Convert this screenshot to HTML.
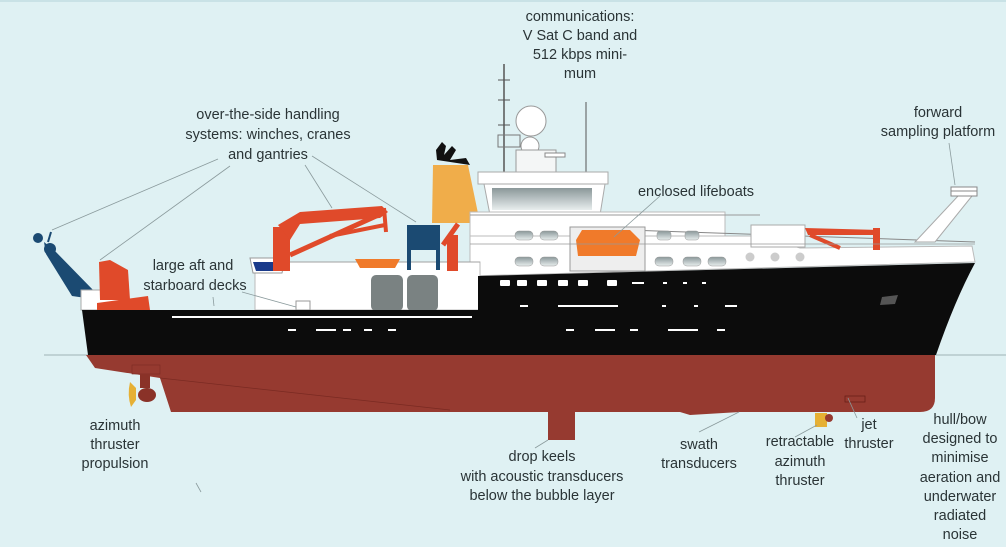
<!DOCTYPE html>
<html><head><meta charset="utf-8"><style>
html,body{margin:0;padding:0;background:#dff1f3;}
svg{display:block}
text{font-family:"Liberation Sans",sans-serif;font-size:14.5px;fill:#2a3436;text-anchor:middle}
</style></head><body>
<svg width="1006" height="547" viewBox="0 0 1006 547" xmlns="http://www.w3.org/2000/svg">
<defs>
<linearGradient id="win" x1="0" y1="0" x2="0" y2="1"><stop offset="0" stop-color="#8a9799"/><stop offset="1" stop-color="#e8eeee"/></linearGradient>
</defs>
<rect x="0" y="0" width="1006" height="547" fill="#dff1f3"/>
<rect x="0" y="0" width="1006" height="2" fill="#c9e2e6"/>
<line x1="44" y1="355" x2="1006" y2="355" stroke="#9fb4b6" stroke-width="1"/>

<line x1="504" y1="64" x2="504" y2="180" stroke="#555" stroke-width="1.5"/>
<line x1="498" y1="80" x2="510" y2="80" stroke="#555"/>
<line x1="498" y1="100" x2="510" y2="100" stroke="#555"/>
<line x1="498" y1="125" x2="510" y2="125" stroke="#555"/>
<line x1="586" y1="102" x2="586" y2="175" stroke="#555"/>
<rect x="498" y="135" width="22" height="12" fill="none" stroke="#777"/>
<circle cx="531" cy="121" r="15" fill="#fff" stroke="#999"/>
<circle cx="530" cy="146" r="9" fill="#fff" stroke="#999"/>
<rect x="516" y="150" width="40" height="25" fill="#f4f6f6" stroke="#999"/>
<rect x="545" y="153" width="20" height="4" fill="#fff" stroke="#888"/>
<path d="M437 160 L436 150 L442 142 L446 146 L444 155 L452 146 L456 150 L450 160 L466 158 L470 165 Z" fill="#111"/>
<polygon points="433,165 468,165 480,223 432,223" fill="#f0ad4a"/>
<rect x="478" y="172" width="130" height="12" fill="#fff" stroke="#aaa"/>
<polygon points="484,184 605,184 600,215 490,215" fill="#fff" stroke="#aaa"/>
<rect x="492" y="188" width="100" height="22" fill="url(#win)"/>
<rect x="470" y="212" width="255" height="30" fill="#fff" stroke="#bbb"/>
<line x1="470" y1="215" x2="760" y2="215" stroke="#999"/>
<polygon points="470,236 760,236 800,248 972,246 975,262 470,276" fill="#fff" stroke="#bbb"/>
<line x1="600" y1="229" x2="975" y2="242" stroke="#888"/>
<rect x="751" y="225" width="54" height="22" fill="#fff" stroke="#aaa"/>
<g fill="url(#win)" stroke="#999" stroke-width=".5">
<rect x="515" y="231" width="18" height="9" rx="4"/><rect x="540" y="231" width="18" height="9" rx="4"/>
<rect x="515" y="257" width="18" height="9" rx="4"/><rect x="540" y="257" width="18" height="9" rx="4"/>
<rect x="657" y="231" width="14" height="9" rx="3"/><rect x="685" y="231" width="14" height="9" rx="3"/>
<rect x="655" y="257" width="18" height="9" rx="4"/><rect x="683" y="257" width="18" height="9" rx="4"/><rect x="708" y="257" width="18" height="9" rx="4"/>
</g>
<g fill="#ccc"><circle cx="750" cy="257" r="4.5"/><circle cx="775" cy="257" r="4.5"/><circle cx="800" cy="257" r="4.5"/></g>
<rect x="570" y="227" width="75" height="44" fill="#eee" stroke="#999"/>
<path d="M576 240 L582 230 L630 230 L640 240 L636 256 L578 256 Z" fill="#f07a2a"/>
<polygon points="805,228 880,230 880,235 808,235" fill="#e04a2a"/>
<line x1="810" y1="235" x2="840" y2="248" stroke="#e04a2a" stroke-width="4"/>
<rect x="873" y="228" width="7" height="22" fill="#e04a2a"/>
<line x1="470" y1="244" x2="975" y2="244" stroke="#999" stroke-width=".8"/>
<polygon points="958,196 972,196 935,242 915,242" fill="#fff" stroke="#aaa"/>
<rect x="951" y="187" width="26" height="9" fill="#fff" stroke="#888"/>
<line x1="951" y1="191" x2="977" y2="191" stroke="#888"/>

<rect x="255" y="262" width="225" height="48" fill="#fff" stroke="#bbb"/>
<polygon points="250,258 285,258 282,273 253,273" fill="#fff" stroke="#999"/>
<polygon points="253,262 282,262 280,271 256,271" fill="#1a3a8a"/>
<rect x="371" y="275" width="32" height="36" rx="5" fill="#7a8282"/>
<rect x="407" y="275" width="31" height="36" rx="5" fill="#7a8282"/>
<rect x="296" y="301" width="14" height="9" fill="#fff" stroke="#999"/>
<line x1="280" y1="262" x2="480" y2="262" stroke="#999" stroke-width=".8"/>
<rect x="273" y="227" width="17" height="44" fill="#e04a2a"/>
<polygon points="278,225 300,212 382,206 388,212 380,218 300,224 290,240" fill="#e04a2a"/>
<line x1="290" y1="255" x2="385" y2="212" stroke="#e04a2a" stroke-width="5"/>
<line x1="330" y1="236" x2="385" y2="225" stroke="#e04a2a" stroke-width="4"/>
<line x1="384" y1="208" x2="386" y2="232" stroke="#e04a2a" stroke-width="4"/>
<path d="M355 259 L400 259 L395 268 L360 268 Z" fill="#f07a2a"/>
<path d="M407 225 L440 225 L440 270 L436 270 L436 250 L411 250 L411 270 L407 270 Z" fill="#1b4a72"/>
<rect x="411" y="232" width="25" height="4" fill="#1b4a72"/>
<rect x="447" y="235" width="11" height="36" fill="#e04a2a"/>
<line x1="443" y1="245" x2="458" y2="224" stroke="#e04a2a" stroke-width="5"/>

<circle cx="38" cy="238" r="5" fill="#1b4a72"/>
<circle cx="50" cy="249" r="6" fill="#1b4a72"/>
<polygon points="44,242 54,250 95,292 86,298 72,296 46,254" fill="#1b4a72"/>
<line x1="48" y1="242" x2="51" y2="232" stroke="#1b4a72" stroke-width="2"/>
<rect x="81" y="290" width="46" height="20" fill="#fff" stroke="#aaa"/>
<polygon points="99,262 110,260 128,270 130,300 100,300" fill="#e04a2a"/>
<polygon points="97,303 148,296 150,310 97,310" fill="#e04a2a"/>

<path d="M86 355 L935 355 L935 398 Q935 412 920 412 L740 412 L690 415 L680 412 L171 412 L160 378 L95 368 Z" fill="#963a30"/>
<line x1="160" y1="378" x2="450" y2="410" stroke="#7a2a22" stroke-width=".7"/>
<rect x="548" y="411" width="27" height="29" fill="#963a30"/>
<rect x="845" y="396" width="20" height="6" fill="none" stroke="#6a2018" stroke-width=".8"/>
<rect x="132" y="365" width="28" height="9" fill="#963a30" stroke="#7a2a22" stroke-width=".6"/>
<rect x="140" y="374" width="10" height="14" fill="#8a3228"/>
<ellipse cx="147" cy="395" rx="9" ry="7" fill="#8a3228"/>
<path d="M130 382 Q127 395 131 407 L136 400 L136 388 Z" fill="#e6b034"/>
<rect x="815" y="413" width="12" height="14" fill="#e6b034"/>
<circle cx="829" cy="418" r="4" fill="#963a30"/>

<path d="M82 310 L255 310 L478 310 L478 276 L975 263 Q955 300 936 355 L88 355 Z" fill="#0c0c0c"/>
<g fill="#fff">
<rect x="172" y="316" width="300" height="2"/>
<rect x="500" y="280" width="10" height="6" rx="1"/><rect x="517" y="280" width="10" height="6" rx="1"/><rect x="537" y="280" width="10" height="6" rx="1"/><rect x="558" y="280" width="10" height="6" rx="1"/><rect x="578" y="280" width="10" height="6" rx="1"/><rect x="607" y="280" width="10" height="6" rx="1"/>
<rect x="288" y="329" width="8" height="2"/><rect x="316" y="329" width="20" height="2"/><rect x="343" y="329" width="8" height="2"/><rect x="364" y="329" width="8" height="2"/><rect x="388" y="329" width="8" height="2"/>
<rect x="520" y="305" width="8" height="2"/><rect x="558" y="305" width="60" height="2"/><rect x="662" y="305" width="4" height="2"/><rect x="694" y="305" width="4" height="2"/><rect x="725" y="305" width="12" height="2"/>
<rect x="566" y="329" width="8" height="2"/><rect x="595" y="329" width="20" height="2"/><rect x="630" y="329" width="8" height="2"/><rect x="668" y="329" width="30" height="2"/><rect x="717" y="329" width="8" height="2"/>
<rect x="632" y="282" width="12" height="2"/><rect x="663" y="282" width="4" height="2"/><rect x="683" y="282" width="4" height="2"/><rect x="702" y="282" width="4" height="2"/>
</g>
<polygon points="882,297 898,295 895,304 880,305" fill="#555"/>

<g stroke="#8a9a9c" stroke-width=".8" fill="none">
<line x1="218" y1="159" x2="52" y2="230"/>
<line x1="230" y1="166" x2="100" y2="260"/>
<line x1="305" y1="165" x2="332" y2="208"/>
<line x1="312" y1="156" x2="416" y2="222"/>
<line x1="242" y1="292" x2="296" y2="307"/>
<line x1="213" y1="297" x2="214" y2="306"/>
<line x1="660" y1="196" x2="614" y2="237"/>
<line x1="949" y1="143" x2="955" y2="185"/>
<line x1="848" y1="398" x2="857" y2="418"/>
<line x1="739" y1="412" x2="699" y2="432"/>
<line x1="817" y1="425" x2="795" y2="437"/>
<line x1="548" y1="440" x2="535" y2="448"/>
<line x1="196" y1="483" x2="201" y2="492"/>
</g>

<text x="580" y="21">communications:</text>
<text x="580" y="40">V Sat C band and</text>
<text x="580" y="59">512 kbps mini-</text>
<text x="580" y="78">mum</text>
<text x="268" y="119">over-the-side handling</text>
<text x="268" y="139">systems: winches, cranes</text>
<text x="268" y="159">and gantries</text>
<text x="938" y="117">forward</text>
<text x="938" y="136">sampling platform</text>
<text x="696" y="196">enclosed lifeboats</text>
<text x="193" y="270">large aft and</text>
<text x="195" y="290">starboard decks</text>
<text x="115" y="430">azimuth</text>
<text x="115" y="449">thruster</text>
<text x="115" y="468">propulsion</text>
<text x="542" y="461">drop keels</text>
<text x="542" y="481">with acoustic transducers</text>
<text x="542" y="500">below the bubble layer</text>
<text x="699" y="449">swath</text>
<text x="699" y="468">transducers</text>
<text x="800" y="446">retractable</text>
<text x="800" y="466">azimuth</text>
<text x="800" y="485">thruster</text>
<text x="869" y="429">jet</text>
<text x="869" y="448">thruster</text>
<text x="960" y="424">hull/bow</text>
<text x="960" y="443">designed to</text>
<text x="960" y="462">minimise</text>
<text x="960" y="482">aeration and</text>
<text x="960" y="501">underwater</text>
<text x="960" y="520">radiated</text>
<text x="960" y="539">noise</text>
</svg>
</body></html>
